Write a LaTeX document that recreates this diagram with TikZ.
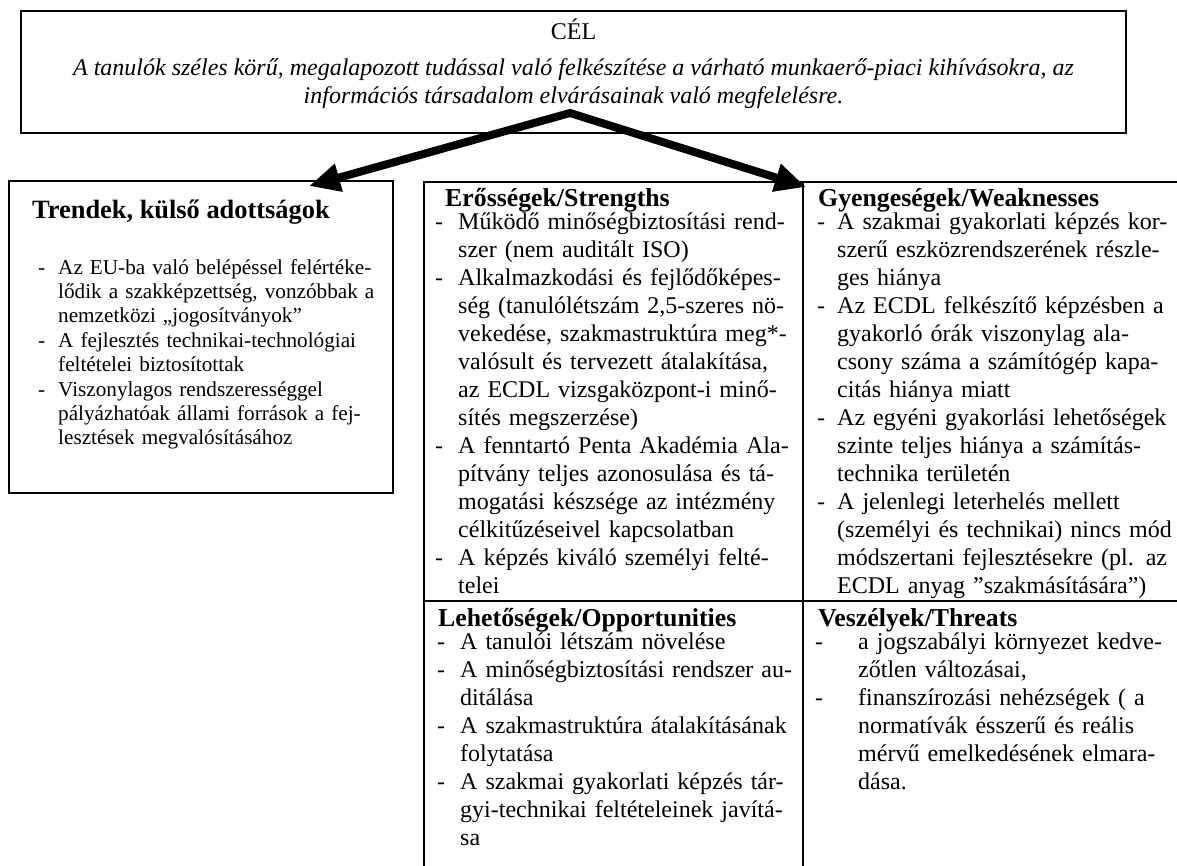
\documentclass[tikz,border=0pt]{standalone}
\usepackage{fontspec}
\setmainfont{Liberation Serif}
\usetikzlibrary{arrows.meta}
\setlength{\parindent}{0pt}
\setlength{\parskip}{0pt}
\newcommand{\jl}[1]{\makebox[\hsize][s]{#1}\par}
\newcommand{\rl}[1]{\leavevmode#1\par}
\newcommand{\D}[1]{\leavevmode\llap{-\hspace{#1}}}
\tikzset{
  frame/.style={draw, line width=2pt, inner sep=0pt},
  rule/.style={line width=2pt},
  swbody/.style={anchor=base west, inner sep=0pt, text width=#1, align=left, font=\fontsize{24}{28}\selectfont},
  lbody/.style={anchor=base west, inner sep=0pt, text width=#1, align=left, font=\fontsize{21.2}{24.4}\selectfont},
  head/.style={anchor=base west, inner sep=0pt, font=\fontsize{25.8}{28}\selectfont\bfseries},
  goaltext/.style={anchor=base, inner sep=0pt, font=\fontsize{24}{28}\selectfont},
  bigarrow/.style={line width=8pt, line join=miter, {Triangle[length=31pt,width=27pt]}-{Triangle[length=31pt,width=27pt]}}
}
\begin{document}
\begin{tikzpicture}[x=1pt,y=-1pt]
\useasboundingbox (0,0) rectangle (1177,865);
\clip (0,0) rectangle (1177,865);

% frames
\node[frame, minimum width=1105pt, minimum height=122pt] (goal) at (573.5,72) {};
\node[frame, minimum width=384pt, minimum height=312pt] (trend) at (201,337) {};
\node[frame, anchor=north west, minimum width=757pt, minimum height=689pt] (swot) at (423,181) {};
\coordinate (vtop) at (803,181);
\coordinate (vbot) at (803,870);
\coordinate (hleft) at (423,601);
\coordinate (hright) at (1180,601);
\draw[rule] (vtop) -- (vbot);
\draw[rule] (hleft) -- (hright);

% goal text
\node[goaltext] (cel) at (573.5,39) {CÉL};
\node[goaltext, font=\fontsize{24}{28}\selectfont\itshape] (g1) at (573.5,75) {A tanulók széles körű, megalapozott tudással való felkészítése a várható munkaerő-piaci kihívásokra, az};
\node[goaltext, font=\fontsize{24}{28}\selectfont\itshape] (g2) at (573.5,103) {információs társadalom elvárásainak való megfelelésre.};

% arrows
\coordinate (apex) at (570,113);
\coordinate (tipL) at (309,186);
\coordinate (tipR) at (806,187);
\draw[bigarrow] (tipL) -- (apex) -- (tipR);

% left box
\node[anchor=base west, inner sep=0pt, font=\fontsize{26.4}{30}\selectfont\bfseries] (trendT) at (32,218) {Trendek, külső adottságok};
\node[lbody=330pt] (trendB) at (58,274) {%
\rl{\D{13pt}Az EU-ba való belépéssel felértéke-}
\rl{lődik a szakképzettség, vonzóbbak a}
\rl{nemzetközi „jogosítványok”}
\rl{\D{13pt}A fejlesztés technikai-technológiai}
\rl{feltételei biztosítottak}
\rl{\D{13pt}Viszonylagos rendszerességgel}
\rl{pályázhatóak állami források a fej-}
\rl{lesztések megvalósításához}};

% strengths
\node[head] (sT) at (445,206) {Erősségek/Strengths};
\node[swbody=332pt] (sB) at (458,229) {%
\jl{\D{15pt}Működő minőségbiztosítási rend-}
\rl{szer (nem auditált ISO)}
\jl{\D{15pt}Alkalmazkodási és fejlődőképes-}
\jl{ség (tanulólétszám 2,5-szeres nö-}
\jl{vekedése, szakmastruktúra meg*-}
\jl{valósult és tervezett átalakítása,}
\jl{az ECDL vizsgaközpont-i minő-}
\rl{sítés megszerzése)}
\jl{\D{15pt}A fenntartó Penta Akadémia Ala-}
\jl{pítvány teljes azonosulása és tá-}
\jl{mogatási készsége az intézmény}
\rl{célkitűzéseivel kapcsolatban}
\jl{\D{15pt}A képzés kiváló személyi felté-}
\rl{telei}};

% weaknesses
\node[head] (wT) at (818,206) {Gyengeségek/Weaknesses};
\node[swbody=330pt] (wB) at (837,229) {%
\jl{\D{12pt}A szakmai gyakorlati képzés kor-}
\jl{szerű eszközrendszerének részle-}
\rl{ges hiánya}
\jl{\D{12pt}Az ECDL felkészítő képzésben a}
\jl{gyakorló órák viszonylag ala-}
\jl{csony száma a számítógép kapa-}
\rl{citás hiánya miatt}
\jl{\D{12pt}Az egyéni gyakorlási lehetőségek}
\jl{szinte teljes hiánya a számítás-}
\rl{technika területén}
\jl{\D{12pt}A jelenlegi leterhelés mellett}
\jl{(személyi és technikai) nincs mód}
\jl{módszertani fejlesztésekre (pl. az}
\rl{ECDL anyag ”szakmásítására”)}};

% opportunities
\node[head] (oT) at (438,626) {Lehetőségek/Opportunities};
\node[swbody=330pt] (oB) at (460,649) {%
\rl{\D{15pt}A tanulói létszám növelése}
\jl{\D{15pt}A minőségbiztosítási rendszer au-}
\rl{ditálása}
\jl{\D{15pt}A szakmastruktúra átalakításának}
\rl{folytatása}
\jl{\D{15pt}A szakmai gyakorlati képzés tár-}
\jl{gyi-technikai feltételeinek javítá-}
\rl{sa}};

% threats
\node[head] (tT) at (818,626) {Veszélyek/Threats};
\node[swbody=309pt] (tB) at (858,649) {%
\jl{\D{35pt}a jogszabályi környezet kedve-}
\rl{zőtlen változásai,}
\jl{\D{35pt}finanszírozási nehézségek ( a}
\jl{normatívák ésszerű és reális}
\jl{mérvű emelkedésének elmara-}
\rl{dása.}};
\end{tikzpicture}
\end{document}
